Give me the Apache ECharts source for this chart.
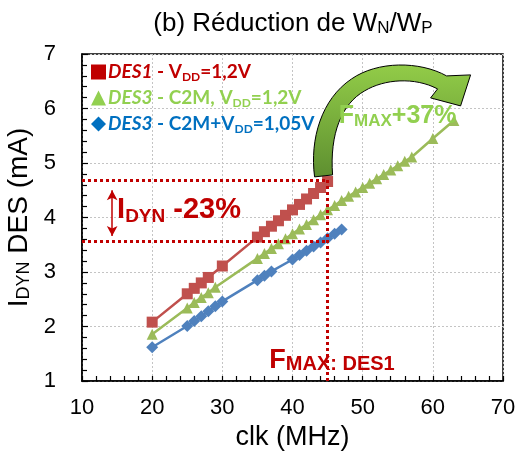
<!DOCTYPE html>
<html><head><meta charset="utf-8">
<script src="https://cdn.jsdelivr.net/npm/echarts@6/dist/echarts.min.js"></script>
<style>html,body{margin:0;padding:0;background:#fff}#c{width:518px;height:452px}</style>
</head><body><div id="c"></div>
<script>
// ---- data ----
const xRed   = [20,25,26,27,28,30,35,36,37,38,39,40,41,42,43,44,45];
const yRed   = [2.08,2.60,2.70,2.80,2.90,3.11,3.64,3.74,3.84,3.94,4.04,4.14,4.24,4.34,4.44,4.55,4.66];
const xGreen = [20,25,26,27,28,29,35,36,37,38,39,40,41,42,43,44,45,46,47,48,49,50,51,52,53,54,55,56,57,60,63];
const yGreen = [1.86,2.34,2.44,2.53,2.62,2.72,3.25,3.34,3.43,3.52,3.61,3.70,3.79,3.87,3.96,4.05,4.14,4.22,4.31,4.39,4.47,4.55,4.63,4.71,4.79,4.87,4.95,5.03,5.11,5.45,5.78];
const xBlue  = [20,25,26,27,28,29,30,35,36,37,40,41,42,43,44,45,46,47];
const yBlue  = [1.62,2.01,2.10,2.19,2.28,2.37,2.46,2.85,2.93,3.01,3.23,3.31,3.39,3.47,3.54,3.62,3.70,3.78];
const seriesNames = ['DES1', 'DES3 C2M', 'DES3 C2M+VDD'];
const xTicks = [10,20,30,40,50,60,70];
const yTicks = [1,2,3,4,5,6,7];
// annotation reference values
const fmaxDES1 = 45;
const idynHigh = 4.69;
const idynLow = 3.57;
const arrowX = 14.3, arrowYTop = 4.50, arrowYBot = 3.66;

const zip = (xs, ys) => xs.map((x, i) => [x, ys[i]]);
const chart = echarts.init(document.getElementById('c'), null, {renderer: 'canvas'});
const ARIAL = '"Liberation Sans", Arial, sans-serif';
const CAL = 'Lato, "Open Sans", sans-serif';

function legendRich(c, key) {
  const o = {};
  o[key + 'i'] = {color: c, fontFamily: CAL, fontWeight: 'bold', fontStyle: 'italic', fontSize: 19, lineHeight: 22};
  o[key] = {color: c, fontFamily: CAL, fontWeight: 'bold', fontSize: 19, lineHeight: 22};
  o[key + 's'] = {color: c, fontFamily: CAL, fontWeight: 'bold', fontSize: 12, lineHeight: 12, padding: [10, 0, 0, 0], verticalAlign: 'bottom'};
  return o;
}
const rich = Object.assign({}, legendRich('#C00000', 'r'), legendRich('#92D050', 'g'), legendRich('#0070C0', 'b'));

const dotted = {color: '#C00000', width: 3, type: [3, 3]};

chart.setOption({
  animation: false,
  backgroundColor: '#fff',
  title: {
    text: '(b) Réduction de W{s|N}/W{s|P}',
    left: 288, top: 6, textAlign: 'center',
    textStyle: {
      fontFamily: ARIAL, fontSize: 26, fontWeight: 'normal', color: '#000',
      rich: {
        s: {fontFamily: ARIAL, fontSize: 17, color: '#000', lineHeight: 17, padding: [11, 0, 0, 0], verticalAlign: 'bottom'}
      }
    }
  },
  grid: {left: 82, right: 15, top: 54, bottom: 71, containLabel: false, outerBoundsMode: 'none',
    show: true, borderColor: '#000', borderWidth: 1.5, backgroundColor: 'transparent'},
  legend: {
    orient: 'vertical', left: 86, top: 56, itemWidth: 15, itemHeight: 15, itemGap: 4,
    data: [
      {name: seriesNames[0], icon: 'rect', itemStyle: {color: '#C00000'}},
      {name: seriesNames[1], icon: 'triangle', itemStyle: {color: '#92D050'}},
      {name: seriesNames[2], icon: 'diamond', itemStyle: {color: '#0070C0'}}
    ],
    formatter: function (n) {
      if (n === seriesNames[0]) return '{ri|DES1}{r| - V}{rs|DD}{r|=1,2V}';
      if (n === seriesNames[1]) return '{gi|DES3}{g| - C2M, V}{gs|DD}{g|=1,2V}';
      return '{bi|DES3}{b| - C2M+V}{bs|DD}{b|=1,05V}';
    },
    textStyle: {rich: rich, padding: [0, 0, 0, -3]},
    selectedMode: false
  },
  xAxis: {
    type: 'value', min: xTicks[0], max: xTicks[xTicks.length - 1], interval: 10,
    name: 'clk (MHz)', nameLocation: 'middle', nameGap: 43,
    nameTextStyle: {fontFamily: ARIAL, fontSize: 27, color: '#000'},
    axisLine: {show: true, onZero: false, lineStyle: {color: '#000', width: 1.5}},
    axisTick: {show: true, inside: true, length: 5, lineStyle: {color: '#000', width: 1.2}},
    minorTick: {show: true, splitNumber: 5, length: 5, lineStyle: {color: '#000', width: 1.2}},
    axisLabel: {fontFamily: ARIAL, fontSize: 22, color: '#000', margin: 16},
    splitLine: {show: true, lineStyle: {color: '#c4c4c4', width: 1, type: [2, 2]}}
  },
  yAxis: {
    type: 'value', min: yTicks[0], max: yTicks[yTicks.length - 1], interval: 1,
    name: 'I{s|DYN} DES (mA)', nameLocation: 'middle', nameGap: 38, nameRotate: 90,
    nameTextStyle: {fontFamily: ARIAL, fontSize: 28, color: '#000',
      rich: {
        s: {fontFamily: ARIAL, fontSize: 18, color: '#000', lineHeight: 18, padding: [12, 0, 0, 0], verticalAlign: 'bottom'}
      }},
    axisLine: {show: true, onZero: false, lineStyle: {color: '#000', width: 1.5}},
    axisTick: {show: true, inside: true, length: 6, lineStyle: {color: '#000', width: 1.2}},
    minorTick: {show: true, splitNumber: 5, length: 5, lineStyle: {color: '#000', width: 1.2}},
    axisLabel: {fontFamily: ARIAL, fontSize: 22, color: '#000', margin: 26},
    splitLine: {show: true, lineStyle: {color: '#c4c4c4', width: 1, type: [2, 2]}}
  },
  series: [
    {
      name: seriesNames[0], type: 'line', data: zip(xRed, yRed), symbol: 'rect', symbolSize: 11,
      itemStyle: {color: '#C0504D'}, lineStyle: {color: '#C0504D', width: 2.5}, z: 3,
      markLine: {
        silent: true, symbol: ['none', 'none'], label: {show: false}, lineStyle: dotted, z: 10,
        data: [
          [{coord: [xTicks[0], idynHigh]}, {coord: [fmaxDES1, idynHigh]}],
          [{coord: [xTicks[0], idynLow]}, {coord: [fmaxDES1, idynLow]}],
          [{coord: [fmaxDES1, idynHigh]}, {coord: [fmaxDES1, yTicks[0]]}]
        ]
      }
    },
    {
      name: seriesNames[1], type: 'line', data: zip(xGreen, yGreen), symbol: 'triangle', symbolSize: 11,
      itemStyle: {color: '#9BBB59'}, lineStyle: {color: '#9BBB59', width: 2.5}, z: 3
    },
    {
      name: seriesNames[2], type: 'line', data: zip(xBlue, yBlue), symbol: 'diamond', symbolSize: 12,
      itemStyle: {color: '#4F81BD'}, lineStyle: {color: '#4F81BD', width: 2.5}, z: 3,
      markLine: {
        silent: true, symbol: ['arrow', 'arrow'], symbolSize: [8, 10], label: {show: false},
        lineStyle: {color: '#C00000', width: 1.5, type: 'solid'}, z: 10,
        data: [[{coord: [arrowX, arrowYTop]}, {coord: [arrowX, arrowYBot]}]]
      }
    }
  ]
});

// annotations anchored to data coordinates
const P = (x, y) => chart.convertToPixel({gridIndex: 0}, [x, y]);
const a = P(fmaxDES1, idynHigh);
const dx = a[0] - 328, dy = a[1] - 181;
const arrowPath = 'M315,178 C310,140 322,100 352,80 C378,62 420,62 447,77 L471,76 L461,107 L431,99 L438,90 C415,78 385,80 365,92 C342,105 330,135 333,176 Z';
let arrowEl = null;
try {
  const BigArrow = echarts.graphic.extendPath(arrowPath, {});
  echarts.graphic.registerShape('bigCurvedArrow', BigArrow);
  arrowEl = {
    type: 'bigCurvedArrow', x: dx, y: dy, z: 100,
    style: {
      fill: {type: 'linear', x: 0, y: 0, x2: 0, y2: 1, colorStops: [{offset: 0, color: '#92CC48'}, {offset: 1, color: '#5E8F30'}]},
      stroke: '#000', lineWidth: 1
    }
  };
} catch (e) { arrowEl = null; }
const tIdyn = P(15.0, 4.13);
const tFmax = P(36.7, 1.38);
const tF37 = P(46.6, 5.86);
const gfx = [
  {
    type: 'text', x: tIdyn[0], y: tIdyn[1], z: 100,
    style: {
      text: '{b|I}{s|DYN}{b| -23%}', verticalAlign: 'middle', align: 'left',
      rich: {
        b: {fontFamily: ARIAL, fontWeight: 'bold', fontSize: 29, fill: '#C00000', lineHeight: 31},
        s: {fontFamily: ARIAL, fontWeight: 'bold', fontSize: 19, fill: '#C00000', lineHeight: 19, padding: [12, 0, 0, 0], verticalAlign: 'bottom'}
      }
    }
  },
  {
    type: 'text', x: tFmax[0], y: tFmax[1], z: 100,
    style: {
      text: '{b|F}{s|MAX: DES1}', verticalAlign: 'middle', align: 'left',
      rich: {
        b: {fontFamily: ARIAL, fontWeight: 'bold', fontSize: 27, fill: '#C00000', lineHeight: 29},
        s: {fontFamily: ARIAL, fontWeight: 'bold', fontSize: 20, fill: '#C00000', lineHeight: 20, padding: [9, 0, 0, 0], verticalAlign: 'bottom'}
      }
    }
  },
  {
    type: 'text', x: tF37[0], y: tF37[1], z: 100,
    style: {
      text: '{b|F}{s|MAX}{b|+37%}', verticalAlign: 'middle', align: 'left',
      rich: {
        b: {fontFamily: ARIAL, fontWeight: 'bold', fontSize: 25, fill: '#92D050', lineHeight: 28},
        s: {fontFamily: ARIAL, fontWeight: 'bold', fontSize: 17, fill: '#92D050', lineHeight: 17, padding: [10, 0, 0, 0], verticalAlign: 'bottom'}
      }
    }
  }
];
if (arrowEl) gfx.unshift(arrowEl);
chart.setOption({graphic: gfx});
</script></body></html>
